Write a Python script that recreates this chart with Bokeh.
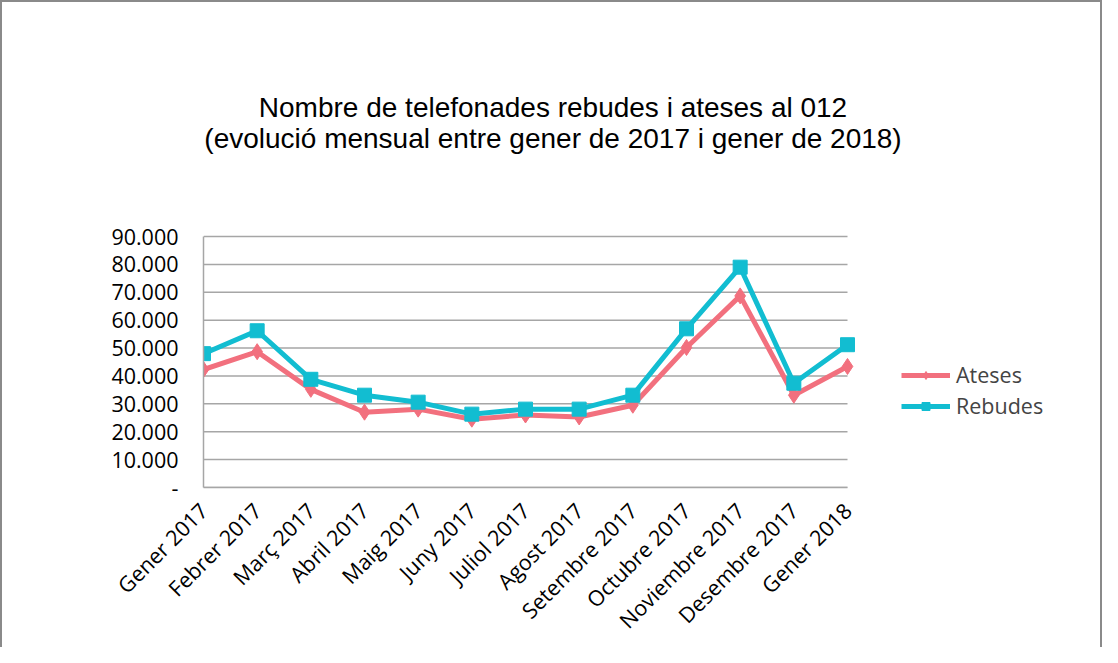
from bokeh.plotting import figure
from bokeh.models import Range1d, FixedTicker, Legend, LegendItem, Label
from bokeh.embed import file_html
from bokeh.resources import INLINE
import math

months = ["Gener 2017", "Febrer 2017", "Març 2017", "Abril 2017", "Maig 2017", "Juny 2017",
          "Juliol 2017", "Agost 2017", "Setembre 2017", "Octubre 2017", "Noviembre 2017",
          "Desembre 2017", "Gener 2018"]
ateses = [42300, 48700, 35200, 27000, 28100, 24500, 26000, 25300, 29500, 50200, 68700, 33100, 43400]
rebudes = [48000, 56200, 38800, 33100, 30600, 26300, 28100, 28100, 33100, 56900, 79000, 37400, 51200]
y_ticks = [0, 10000, 20000, 30000, 40000, 50000, 60000, 70000, 80000, 90000]
y_tick_labels = ["-", "10.000", "20.000", "30.000", "40.000", "50.000", "60.000", "70.000", "80.000", "90.000"]
title_lines = ["Nombre de telefonades rebudes i ateses al 012",
               "(evolució mensual entre gener de 2017 i gener de 2018)"]

PINK = "#F2707E"
CYAN = "#12BDD1"
GRID = "#A6A6A6"
FONT = "Open Sans"
FS = "21.5px"

# canvas layout (px)
W, H = 1102, 647
PLOT_L, PLOT_R, PLOT_T, PLOT_B = 201, 845, 234, 485   # data area inside the canvas
FRAME_B = PLOT_B

xs = list(range(len(months)))
n = len(months) - 1
ymax = y_ticks[-1]
x_end = n * (W - PLOT_L) / (PLOT_R - PLOT_L)
y_end = ymax * FRAME_B / (PLOT_B - PLOT_T)

p = figure(width=W, height=H, output_backend="svg", toolbar_location=None,
           x_range=Range1d(0, x_end), y_range=Range1d(0, y_end),
           min_border_left=PLOT_L, min_border_right=0, min_border_top=0,
           min_border_bottom=H - FRAME_B)
p.outline_line_color = None
p.background_fill_color = "white"
p.border_fill_color = "white"
p.styles = {"border-top": "2px solid #8a8a8a", "border-left": "2px solid #8a8a8a",
            "border-right": "2px solid #8a8a8a"}

p.xgrid.grid_line_color = None
p.ygrid.grid_line_color = None
# horizontal gridlines limited to the data area
p.segment(x0=[0] * len(y_ticks), x1=[n] * len(y_ticks), y0=y_ticks, y1=y_ticks,
          line_color=GRID, line_width=1.5)

p.yaxis.ticker = FixedTicker(ticks=y_ticks)
p.yaxis.major_label_overrides = {t: l for t, l in zip(y_ticks, y_tick_labels)}
p.yaxis.bounds = (0, ymax)
p.xaxis.ticker = FixedTicker(ticks=xs)
p.xaxis.major_label_overrides = {i: m for i, m in enumerate(months)}
p.xaxis.major_label_orientation = math.pi / 4
p.xaxis.bounds = (0, n)
for ax in (p.xaxis, p.yaxis):
    ax.axis_line_color = GRID
    ax.axis_line_width = 1.5
    ax.major_tick_line_color = None
    ax.minor_tick_line_color = None
    ax.major_tick_out = 0
    ax.major_tick_in = 0
    ax.major_label_text_font = FONT
    ax.major_label_text_font_size = FS
    ax.major_label_text_color = "#000000"
p.yaxis.major_label_standoff = 25
p.xaxis.major_label_standoff = 19

l1 = p.line(xs, ateses, line_color=PINK, line_width=5)
s1 = p.scatter(xs, ateses, marker="diamond", size=16, fill_color=PINK, line_color=PINK)
l2 = p.line(xs, rebudes, line_color=CYAN, line_width=5)
s2 = p.scatter(xs, rebudes, marker="square", size=14, fill_color=CYAN, line_color=CYAN)

legend = Legend(items=[LegendItem(label="Ateses", renderers=[l1, s1]),
                       LegendItem(label="Rebudes", renderers=[l2, s2])],
                location=(698, 67), margin=0, padding=0, spacing=2,
                glyph_width=49, glyph_height=20, label_height=20, label_standoff=6,
                border_line_color=None, background_fill_alpha=0,
                label_text_font=FONT, label_text_font_size=FS)
p.add_layout(legend, "center")

for txt, yy in zip(title_lines, [380, 349]):
    p.add_layout(Label(x=349.5, y=yy, x_units="screen", y_units="screen", text=txt,
                       text_align="center", text_baseline="alphabetic",
                       text_font="Liberation Sans", text_font_size="28px",
                       text_color="#000000"))

open("out.html", "w").write(file_html(p, INLINE))
